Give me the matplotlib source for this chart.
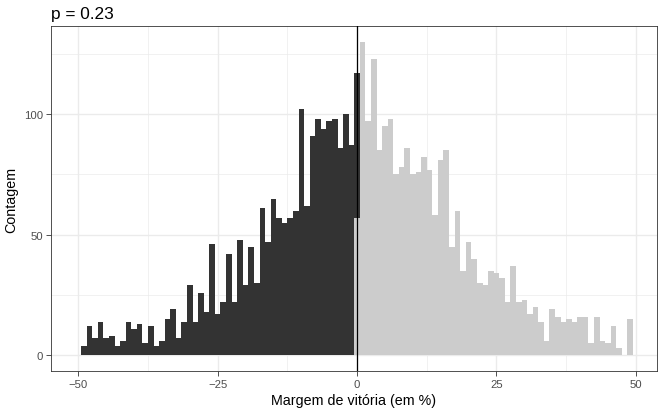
import matplotlib.pyplot as plt
import numpy as np

plt.rcParams['font.family'] = ['Liberation Sans', 'DejaVu Sans']

# contagens por faixa de 1 ponto (centro da faixa)
neg_bins = list(range(-49, 1))
neg_counts = [4, 12, 7, 14, 7, 8, 4, 6, 14, 11,
              13, 5, 12, 4, 6, 15, 19, 7, 14, 29,
              14, 26, 18, 46, 17, 22, 42, 22, 48, 29,
              45, 30, 61, 47, 65, 57, 55, 57, 60, 102,
              62, 91, 98, 94, 97, 98, 86, 100, 87, 60]

pos_bins = list(range(0, 50))
pos_counts = [57, 130, 97, 123, 85, 95, 98, 75, 78, 86,
              75, 76, 82, 77, 58, 81, 85, 45, 60, 35,
              47, 40, 30, 29, 35, 34, 32, 22, 37, 22,
              23, 17, 20, 14, 6, 19, 16, 14, 15, 14,
              16, 16, 5, 16, 6, 5, 12, 3, 0, 15]

title = 'p = 0.23'
xlabel = 'Margem de vitória (em %)'
ylabel = 'Contagem'

W, H = 668, 410
fig = plt.figure(figsize=(W / 100, H / 100), dpi=100)
ax = fig.add_axes([51 / W, 1 - 372 / H, (657 - 51) / W, (372 - 27) / H])

grid_c = '#ebebeb'
ax.set_axisbelow(True)
for v in [-37.5, -12.5, 12.5, 37.5]:
    ax.axvline(v, color=grid_c, lw=0.5, zorder=0)
for v in [25, 75, 125]:
    ax.axhline(v, color=grid_c, lw=0.5, zorder=0)
for v in [-50, -25, 0, 25, 50]:
    ax.axvline(v, color=grid_c, lw=1.0, zorder=0)
for v in [0, 50, 100]:
    ax.axhline(v, color=grid_c, lw=1.0, zorder=0)

pos_lookup = dict(zip(pos_bins, pos_counts))
ax.bar(pos_bins, pos_counts, width=1.0, color='#cccccc', linewidth=0, zorder=2)
neg_bottom = [pos_lookup[b] if b in pos_lookup else 0 for b in neg_bins]
ax.bar(neg_bins, neg_counts, width=1.0, bottom=neg_bottom,
       color='#333333', linewidth=0, zorder=2)

ax.axvline(0, color='black', lw=0.9, zorder=3)

ax.set_xlim(-54.9, 53.8)
ax.set_ylim(-6.5, 136.5)
ax.set_xticks([-50, -25, 0, 25, 50])
ax.set_yticks([0, 50, 100])

for s in ax.spines.values():
    s.set_color('#333333')
    s.set_linewidth(0.6)

ax.tick_params(axis='both', length=3.5, width=0.6, color='#333333',
               labelcolor='#4d4d4d', labelsize=8.2, pad=2)
ax.set_xlabel(xlabel, fontsize=10.3, labelpad=3)
ax.set_ylabel(ylabel, fontsize=10.3, labelpad=4)

fig.text(51 / W, 1 - 19 / H, title, fontsize=12.4, ha='left', va='baseline')

fig.savefig('out.png', dpi=100)
